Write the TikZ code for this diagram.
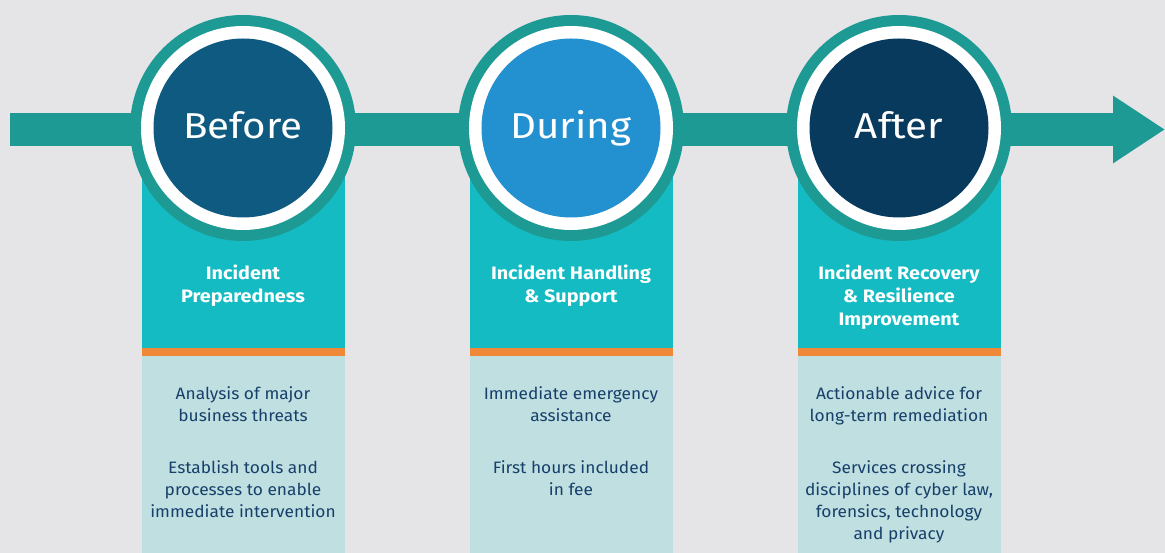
\documentclass[tikz,border=0pt]{standalone}
\usepackage{fontspec}
\setmainfont{Fira Sans}
\usetikzlibrary{arrows.meta}

\definecolor{bggray}{HTML}{E5E5E8}
\definecolor{ringteal}{HTML}{1E9A94}
\definecolor{headteal}{HTML}{14BBC3}
\definecolor{barorange}{HTML}{F0883A}
\definecolor{paleblue}{HTML}{C0DFE1}
\definecolor{beforeblue}{HTML}{0E5A80}
\definecolor{duringblue}{HTML}{2390D0}
\definecolor{afterblue}{HTML}{083A5E}
\definecolor{textblue}{HTML}{16406A}

\tikzset{
  phase/.style={circle, minimum size=179pt, inner sep=0pt, text=white,
    text height=21pt, text depth=0pt,
    font=\fontsize{36}{40}\selectfont\addfontfeatures{FakeStretch=1.12}},
  headtext/.style={anchor=north, align=center, inner sep=0pt, text=white,
    font=\fontsize{18}{23}\selectfont\bfseries\addfontfeatures{FakeStretch=1.1}},
  bodytext/.style={anchor=north, align=center, inner sep=0pt, text=textblue,
    font=\fontsize{16.5}{22}\selectfont\addfontfeatures{FakeStretch=1.05}},
}

\begin{document}
\begin{tikzpicture}[x=1pt,y=1pt]

  %background
  \fill[bggray] (0,0) rectangle (1165,553);
  \useasboundingbox (0,0) rectangle (1165,553);

  %columns
  \foreach \x in {243,571,899} {
    \fill[headteal] (\x-101.5,205) rectangle (\x+101.5,380);
    \fill[barorange] (\x-101.5,197) rectangle (\x+101.5,205);
    \fill[paleblue] (\x-101.5,0) rectangle (\x+101.5,197);
  }

  %draw arrow
  \coordinate (start) at (10,423.5);
  \coordinate (end) at (1165,423.5);
  \draw[ringteal, line width=33pt, -{Triangle[length=52pt, width=64pt]}] (start) -- (end);

  %rings
  \foreach \x in {243,571,899} {
    \fill[ringteal] (\x,425) circle (113pt);
    \fill[white] (\x,425) circle (102pt);
  }

  \node[phase, fill=beforeblue] (before) at (243,425) {Before};
  \node[phase, fill=duringblue] (during) at (571,425) {During};
  \node[phase, fill=afterblue] (after) at (899,425) {After};

  % headings
  \node[headtext] (prep) at (243,288) {Incident\\Preparedness};
  \node[headtext] (handling) at (571,288) {Incident Handling\\\& Support};
  \node[headtext] (recovery) at (899,288) {Incident Recovery\\\& Resilience\\Improvement};

  % bullet texts
  \node[bodytext] (threats) at (243,167) {Analysis of major\\business threats};
  \node[bodytext] (tools) at (243,93) {Establish tools and\\processes to enable\\immediate intervention};
  \node[bodytext] (assist) at (571,167) {Immediate emergency\\assistance};
  \node[bodytext] (hours) at (571,93) {First hours included\\in fee};
  \node[bodytext] (advice) at (899,167) {Actionable advice for\\long-term remediation};
  \node[bodytext] (services) at (899,93) {Services crossing\\disciplines of cyber law,\\forensics, technology\\and privacy};
\end{tikzpicture}
\end{document}
